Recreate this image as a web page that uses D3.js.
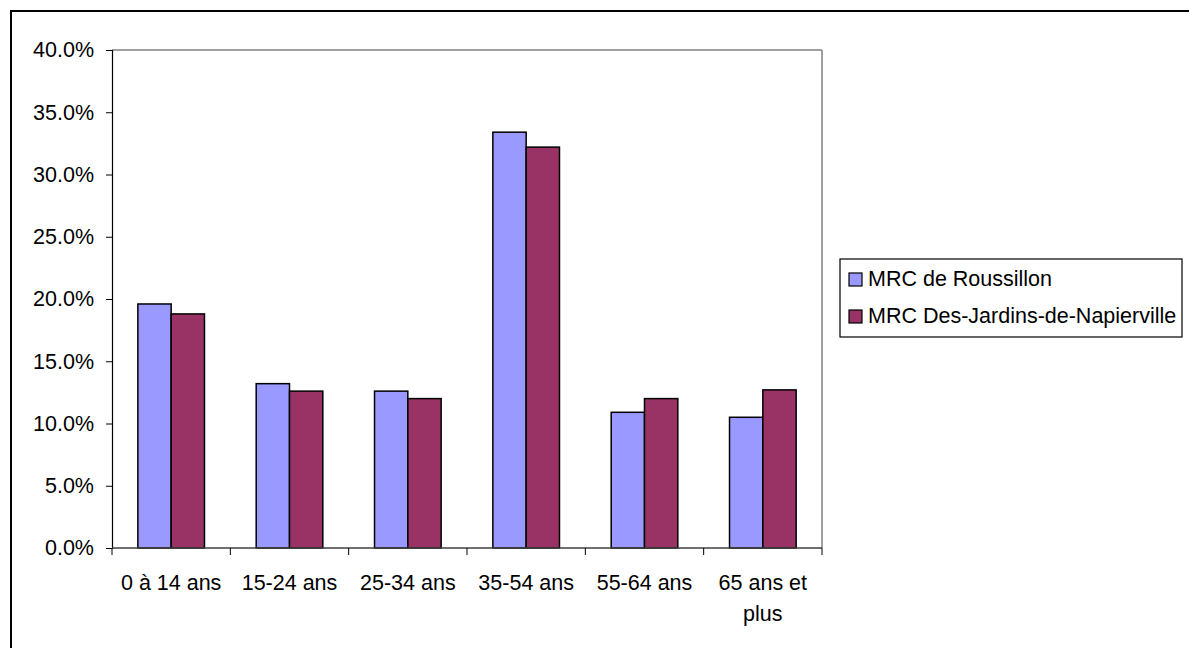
<!DOCTYPE html>
<html>
<head>
<meta charset="utf-8">
<script src="https://cdn.jsdelivr.net/npm/d3@7"></script>
<style>
  html, body { margin: 0; padding: 0; background: #fff; }
  svg { display: block; }
  text { font-family: "Liberation Sans", Arial, sans-serif; fill: #000; }
</style>
</head>
<body>
<svg id="chart" width="1189" height="648"></svg>
<script>
const categories = ["0 à 14 ans", "15-24 ans", "25-34 ans", "35-54 ans", "55-64 ans", "65 ans et plus"];
const seriesNames = ["MRC de Roussillon", "MRC Des-Jardins-de-Napierville"];
const roussillon = [19.6, 13.2, 12.6, 33.4, 10.9, 10.5];
const napierville = [18.8, 12.6, 12.0, 32.2, 12.0, 12.7];
const seriesColors = ["#9999FF", "#993366"];
const yTicks = [0, 5, 10, 15, 20, 25, 30, 35, 40];

const series = [roussillon, napierville];
const svg = d3.select("#chart");
const FS = 21.5;

// outer frame
svg.append("rect").attr("x", 11).attr("y", 11).attr("width", 1300).attr("height", 800)
  .attr("fill", "none").attr("stroke", "#000").attr("stroke-width", 2);

const plot = { left: 112, top: 50, right: 822, bottom: 548 };

const x0 = d3.scaleBand().domain(categories).range([plot.left, plot.right])
  .paddingInner(0.437).paddingOuter(0.2185);
const x1 = d3.scaleBand().domain(d3.range(series.length)).range([0, x0.bandwidth()]);
const y = d3.scaleLinear().domain([0, 40]).range([plot.bottom, plot.top]);

// plot frame top/right (gray)
svg.append("line").attr("x1", plot.left).attr("x2", plot.right).attr("y1", plot.top).attr("y2", plot.top)
  .attr("stroke", "#808080").attr("stroke-width", 1.5);
svg.append("line").attr("x1", plot.right).attr("x2", plot.right).attr("y1", plot.top).attr("y2", plot.bottom)
  .attr("stroke", "#808080").attr("stroke-width", 1.5);

// bars
const groups = svg.append("g").selectAll("g").data(categories).join("g")
  .attr("transform", d => `translate(${x0(d)},0)`);
groups.selectAll("rect").data((d, i) => series.map((s, k) => ({ k, v: s[i] }))).join("rect")
  .attr("x", d => x1(d.k))
  .attr("y", d => y(d.v))
  .attr("width", x1.bandwidth())
  .attr("height", d => y(0) - y(d.v))
  .attr("fill", d => seriesColors[d.k])
  .attr("stroke", "#000").attr("stroke-width", 1.5);

// y axis
const yAxis = d3.axisLeft(y).tickValues(yTicks).tickSize(6).tickPadding(12)
  .tickFormat(d => d.toFixed(1) + "%");
const yg = svg.append("g").attr("transform", `translate(${plot.left},0)`).call(yAxis);
yg.select(".domain").attr("stroke", "#000").attr("stroke-width", 1.2);
yg.selectAll(".tick line").attr("stroke", "#000");
yg.selectAll(".tick text").attr("font-size", FS).attr("font-family", "Liberation Sans, Arial, sans-serif");

// x axis with ticks at category boundaries
const xg = svg.append("g");
xg.append("line").attr("x1", plot.left).attr("x2", plot.right).attr("y1", plot.bottom).attr("y2", plot.bottom)
  .attr("stroke", "#404040").attr("stroke-width", 1.5);
xg.selectAll("line.tk").data(d3.range(categories.length + 1)).join("line").attr("class", "tk")
  .attr("x1", i => plot.left + (plot.right - plot.left) * i / categories.length)
  .attr("x2", i => plot.left + (plot.right - plot.left) * i / categories.length)
  .attr("y1", plot.bottom).attr("y2", plot.bottom + 7)
  .attr("stroke", "#000").attr("stroke-width", 1);

// x labels (wrap)
const wrapped = { "65 ans et plus": ["65 ans et", "plus"] };
categories.forEach(c => {
  const lines = wrapped[c] || [c];
  const cx = x0(c) + x0.bandwidth() / 2;
  const t = svg.append("text").attr("text-anchor", "middle").attr("font-size", FS)
    .attr("x", cx).attr("y", 590);
  lines.forEach((l, i) => t.append("tspan").attr("x", cx).attr("dy", i === 0 ? 0 : 31).text(l));
});

// legend
const lg = svg.append("g");
lg.append("rect").attr("x", 840).attr("y", 259).attr("width", 342).attr("height", 78)
  .attr("fill", "#fff").attr("stroke", "#000").attr("stroke-width", 1.2);
seriesNames.forEach((n, i) => {
  const yy = 279 + i * 37;
  lg.append("rect").attr("x", 849).attr("y", yy - 6).attr("width", 13).attr("height", 13)
    .attr("fill", seriesColors[i]).attr("stroke", "#000").attr("stroke-width", 1.2);
  lg.append("text").attr("x", 868).attr("y", yy + 7).attr("font-size", FS).text(n);
});
</script>
</body>
</html>
